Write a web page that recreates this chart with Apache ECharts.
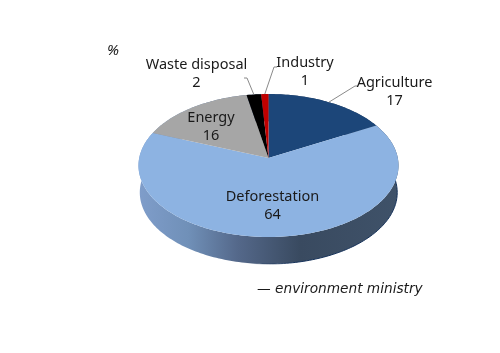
<!DOCTYPE html>
<html>
<head>
<meta charset="utf-8">
<style>
  html, body { margin: 0; padding: 0; background: #fff; }
  #main { width: 500px; height: 353px; }
</style>
<script src="https://cdn.jsdelivr.net/npm/echarts@6/dist/echarts.min.js"></script>
</head>
<body>
<div id="main"></div>
<script>
const categories = ['Agriculture', 'Deforestation', 'Energy', 'Waste disposal', 'Industry']
const values = [17, 64, 16, 2, 1]
const colors = ['#1c4679', '#8db3e2', '#a6a6a6', '#000000', '#c00000']

// tilted disc
const cx = 268.5
const cy = 158
const rx = 129.3
const ry = 70.7
const persp = -0.105
const depth = 27
const bottomScale = 0.99 // rim below is a bit narrower
const total = values.reduce((a, b) => a + b, 0)

// text anchor of each label, leader elbow where there is one
const labelAt = {
  Agriculture: { x: 394.5, y: 92, elbow: [[355, 86], [358, 86]] },
  Deforestation: { x: 272.5, y: 206 },
  Energy: { x: 211, y: 127 },
  'Waste disposal': { x: 196.5, y: 74, elbow: [[247, 78], [244, 78]] },
  Industry: { x: 305, y: 72, elbow: [[274, 67], [277, 67]] }
}
const labelFont = '14.5px "Noto Sans"'

function project (share, drop, scale) {
  const a = share / total * Math.PI * 2
  const u = Math.sin(a)
  const v = -Math.cos(a)
  const d = 1 + persp * v
  return [cx + (scale || 1) * rx * u / d, cy + ry * v / d + (drop || 0)]
}

function arc (from, to, drop, scale) {
  const pts = []
  const n = Math.max(2, Math.ceil((to - from) * 3))
  for (let i = 0; i <= n; i++) {
    pts.push(project(from + (to - from) * i / n, drop, scale))
  }
  return pts
}

function startOf (index) {
  return values.slice(0, index).reduce((a, b) => a + b, 0)
}

function renderWall (params, api) {
  const from = startOf(params.dataIndex)
  const to = from + api.value(0)
  const top = arc(from, to, 0)
  const bottom = arc(from, to, depth, bottomScale)
  return {
    type: 'group',
    children: [{
      type: 'polygon',
      shape: { points: top.concat(bottom.slice().reverse()) },
      style: {
        fill: {
          type: 'linear',
          global: true,
          x: 139,
          y: 0,
          x2: 399,
          y2: 0,
          colorStops: [
            { offset: 0, color: '#7f9dca' },
            { offset: 0.19, color: '#7090b8' },
            { offset: 0.38, color: '#54688a' },
            { offset: 0.62, color: '#394a60' },
            { offset: 1, color: '#3f5269' }
          ]
        }
      }
    }, {
      type: 'polyline',
      shape: { points: bottom },
      style: {
        fill: null,
        lineWidth: 1,
        stroke: {
          type: 'linear',
          global: true,
          x: 139,
          y: 0,
          x2: 399,
          y2: 0,
          colorStops: [
            { offset: 0.4, color: 'rgba(22,50,90,0)' },
            { offset: 0.6, color: 'rgba(22,50,90,1)' },
            { offset: 1, color: 'rgba(22,50,90,1)' }
          ]
        }
      }
    }]
  }
}

function renderSlice (params, api) {
  const name = categories[params.dataIndex]
  const from = startOf(params.dataIndex)
  const to = from + api.value(0)
  const label = labelAt[name]
  const children = [{
    type: 'polygon',
    shape: { points: [[cx, cy]].concat(arc(from, to, 0)) },
    style: { fill: colors[params.dataIndex] }
  }]
  if (label.elbow) {
    children.push({
      type: 'polyline',
      shape: { points: [project((from + to) / 2)].concat(label.elbow) },
      style: { stroke: '#8a8a8a', lineWidth: 1, fill: null }
    })
  }
  children.push({
    type: 'text',
    style: {
      x: label.x,
      y: label.y,
      text: name + '\n' + api.value(0),
      font: labelFont,
      lineHeight: 18.5,
      fill: '#1a1a1a',
      align: 'center',
      verticalAlign: 'middle'
    }
  })
  return { type: 'group', children: children }
}

const chart = echarts.init(document.getElementById('main'))
chart.setOption({
  backgroundColor: '#fff',
  animation: false,
  graphic: [
    {
      type: 'text',
      left: 107,
      top: 43,
      style: { text: '%', font: 'italic 15px "Noto Sans"', fill: '#1a1a1a' }
    },
    {
      type: 'text',
      left: 257,
      top: 282,
      style: { text: '— environment ministry', font: 'italic 13.7px "DejaVu Sans"', fill: '#1a1a1a' }
    }
  ],
  series: [
    {
      type: 'custom',
      coordinateSystem: 'none',
      z: 1,
      silent: true,
      renderItem: renderWall,
      data: values.map(v => [v])
    },
    {
      type: 'custom',
      coordinateSystem: 'none',
      z: 2,
      silent: true,
      renderItem: renderSlice,
      data: values.map(v => [v])
    }
  ]
})
</script>
</body>
</html>
